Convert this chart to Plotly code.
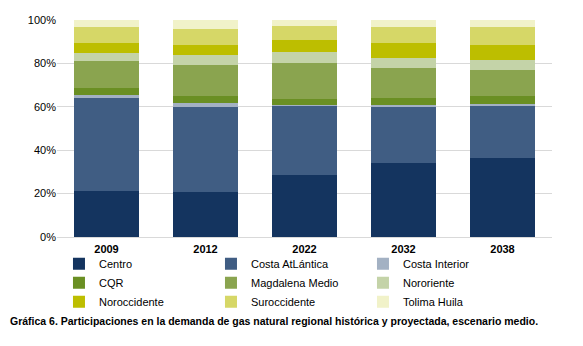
import plotly.graph_objects as go

years = ["2009", "2012", "2022", "2032", "2038"]
regions = ["Centro", "Costa AtLántica", "Costa Interior", "CQR", "Magdalena Medio",
           "Nororiente", "Noroccidente", "Suroccidente", "Tolima Huila"]
colors = ["#14345F", "#405D83", "#A3B1C3", "#6A8F23", "#8AA44F",
          "#C4D3A8", "#BDBE00", "#D6D767", "#F1F2C9"]

centro = [21.4, 20.8, 28.8, 34.2, 36.5]
costa_atlantica = [42.8, 39.2, 31.7, 25.8, 24.0]
costa_interior = [1.4, 1.8, 0.4, 0.9, 0.9]
cqr = [3.2, 3.2, 2.8, 3.3, 3.7]
magdalena_medio = [12.5, 14.3, 16.6, 13.8, 12.0]
nororiente = [3.7, 4.6, 5.1, 4.6, 4.6]
noroccidente = [4.2, 4.6, 5.5, 6.9, 6.9]
suroccidente = [7.8, 7.4, 6.5, 7.4, 8.3]
tolima_huila = [3.0, 4.1, 2.6, 3.1, 3.1]

series = [centro, costa_atlantica, costa_interior, cqr, magdalena_medio,
          nororiente, noroccidente, suroccidente, tolima_huila]

fig = go.Figure()
for name, vals, col in zip(regions, series, colors):
    fig.add_trace(go.Bar(x=years, y=[v / 100 for v in vals], name=name,
                         marker=dict(color=col, line=dict(width=0))))

fig.update_layout(
    barmode="stack",
    bargap=0.35,
    width=583, height=346,
    margin=dict(l=57, r=31, t=20, b=109, autoexpand=False),
    plot_bgcolor="white", paper_bgcolor="white",
    font=dict(family="Liberation Sans, Arial, sans-serif", size=11, color="black"),
    showlegend=True,
    legend=dict(orientation="h", x=0.004, xanchor="left", y=-0.057, yanchor="top",
                entrywidth=107, entrywidthmode="pixels",
                font=dict(size=11, color="black"), traceorder="normal",
                itemwidth=30, bgcolor="rgba(0,0,0,0)"),
    xaxis=dict(tickfont=dict(family="Liberation Sans, Arial, sans-serif", size=11, color="black"),
               showline=False, ticks="", fixedrange=True, ticklabelstandoff=4),
    yaxis=dict(range=[0, 1], tickvals=[0, 0.2, 0.4, 0.6, 0.8, 1.0],
               tickformat=".0%", showgrid=True, gridcolor="#D9D9D9", gridwidth=1,
               zeroline=True, zerolinecolor="#D9D9D9", zerolinewidth=1,
               tickfont=dict(family="Liberation Sans, Arial, sans-serif", size=11, color="black"),
               ticks="", showline=False),
    annotations=[dict(
        text="<b>Gráfica 6. Participaciones en la demanda de gas natural regional histórica y proyectada, escenario medio.</b>",
        xref="paper", yref="paper", x=-0.099, y=-0.387, xanchor="left", yanchor="middle",
        showarrow=False,
        font=dict(family="Liberation Sans, Arial, sans-serif", size=10.5, color="black"))],
)
# bold tick labels
fig.update_xaxes(tickprefix="<b>", ticksuffix="</b>")
fig.update_yaxes(tickprefix="<b>", ticksuffix="</b>\u00a0\u00a0")

fig.write_html("out.html")
